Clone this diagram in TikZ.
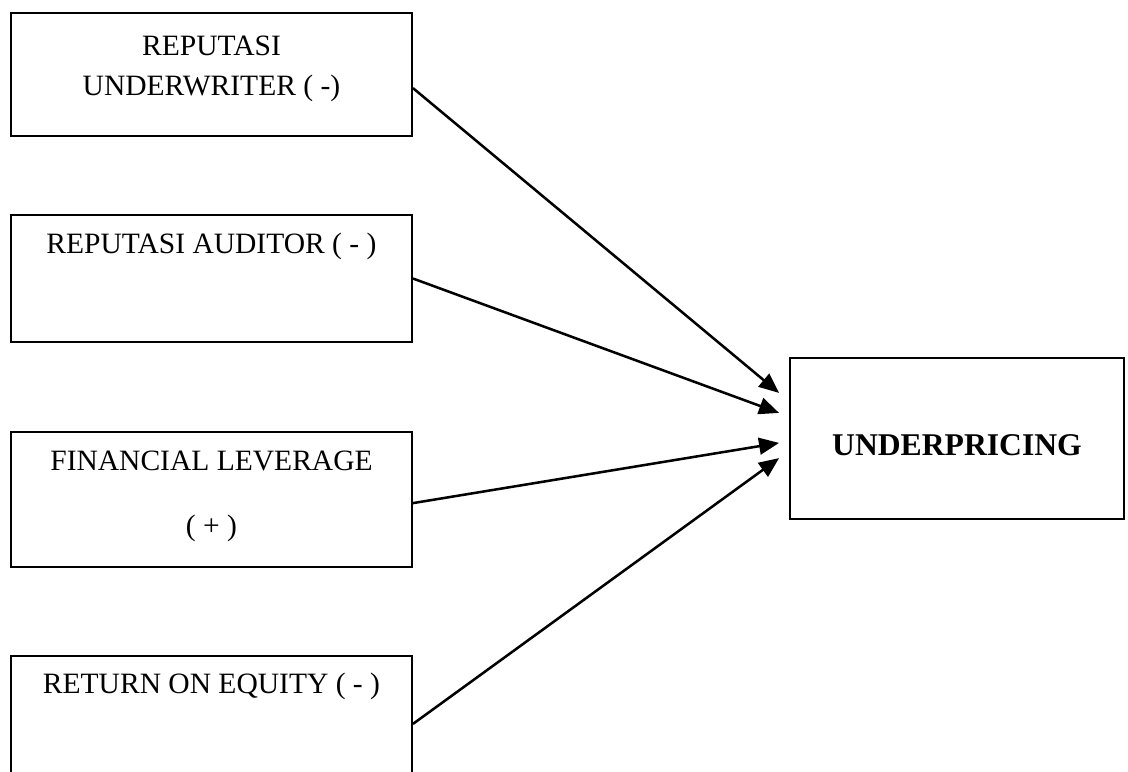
\documentclass[tikz,border=0pt]{standalone}
\usepackage{fontspec}
\setmainfont{Liberation Serif}
\usetikzlibrary{arrows.meta}

\begin{document}
\begin{tikzpicture}[
  x=0.025cm, y=-0.025cm,
  box/.style={draw, line width=1.3pt, inner sep=0pt, minimum width=10.025cm},
  label/.style={font=\fontsize{21}{28.4}\selectfont, anchor=base, align=center, inner sep=0pt},
  arrow/.style={-{Triangle[length=0.5cm, width=0.42cm]}, line width=1.8pt},
]
\clip (0,0) rectangle (1128,771);

% Independent variables
\node[box, minimum height=3.075cm] (uw) at (211.5,74.5) {};
\node[label] (uwtxt) at (211.5,95) {REPUTASI\\UNDERWRITER ( -)};

\node[box, minimum height=3.175cm] (au) at (211.5,278.5) {};
\node[label] (autxt) at (211.5,253) {REPUTASI AUDITOR ( - )};

\node[box, minimum height=3.375cm] (fl) at (211.5,499.5) {};
\node[label] (fltxt) at (211.5,470) {FINANCIAL LEVERAGE};
\node[label] (flsign) at (211.5,535) {( + )};

\node[box, minimum height=3.175cm] (roe) at (211.5,719.5) {};
\node[label] (roetxt) at (211.5,693) {RETURN ON EQUITY ( - )};

% Dependent variable
\node[box, minimum width=8.35cm, minimum height=4.025cm, text height=0.83cm, text depth=0pt,
  font=\fontsize{22.5}{28}\selectfont\bfseries] (up) at (957,438.5) {UNDERPRICING};

% Arrows
\draw[arrow] ([yshift=-0.34cm]uw.east) -- ([xshift=-0.25cm, yshift=1.14cm]up.west);
\draw[arrow] (au.east) -- ([xshift=-0.25cm, yshift=0.64cm]up.west);
\draw[arrow] ([yshift=-0.09cm]fl.east) -- ([xshift=-0.25cm, yshift=-0.11cm]up.west);
\draw[arrow] ([yshift=-0.11cm]roe.east) -- ([xshift=-0.25cm, yshift=-0.49cm]up.west);
\end{tikzpicture}
\end{document}
